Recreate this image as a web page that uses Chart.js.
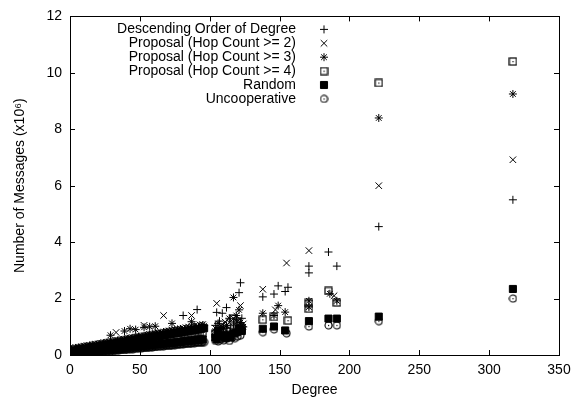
<!DOCTYPE html>
<html>
<head>
<meta charset="utf-8">
<script src="https://cdn.jsdelivr.net/npm/chart.js@4.4.1/dist/chart.umd.min.js"></script>
<style>
  html, body { margin: 0; padding: 0; background: #fff; }
</style>
</head>
<body>
<canvas id="myChart" width="580" height="401"></canvas>
<script>
// Datos (millones de mensajes)

const etiquetas = [
  "Descending Order of Degree",
  "Proposal (Hop Count >= 2)",
  "Proposal (Hop Count >= 3)",
  "Proposal (Hop Count >= 4)",
  "Random",
  "Uncooperative",
];

// grados de la zona densa
const gradosImpares = [1, 3, 5, 7, 9, 11, 13, 15, 17, 19, 21, 23, 25, 27, 29, 31, 33, 35, 37, 39, 41, 43, 45, 47,
  49, 51, 53, 55, 57, 59, 61, 63, 65, 67, 69, 71, 73, 75, 77, 79, 81, 83, 85, 87, 89, 91, 93, 95];
const gradosPares = [2, 4, 6, 8, 10, 12, 14, 16, 18, 20, 22, 24, 26, 28, 30, 32, 34, 36, 38, 40, 42, 44, 46, 48,
  50, 52, 54, 56, 58, 60, 62, 64, 66, 68, 70, 72, 74, 76, 78, 80, 82, 84, 86, 88, 90, 92, 94, 96];

const descDenso = [0.21, 0.22, 0.25, 0.26, 0.28, 0.30, 0.31, 0.34, 0.35, 0.37, 0.39, 0.40, 0.43, 0.44, 0.46, 0.48,
  0.49, 0.52, 0.53, 0.55, 0.57, 0.58, 0.61, 0.62, 0.64, 0.66, 0.67, 0.70, 0.71, 0.73, 0.75, 0.76, 0.79, 0.80,
  0.82, 0.84, 0.85, 0.88, 0.89, 0.91, 1.40, 0.94, 0.97, 0.98, 1.00, 1.61, 1.03, 1.06];
const hop2Denso = [0.19, 0.21, 0.23, 0.25, 0.27, 0.28, 0.31, 0.32, 0.34, 0.36, 0.38, 0.40, 0.42, 0.44, 0.45, 0.48,
  0.80, 0.51, 0.53, 0.55, 0.57, 0.59, 0.61, 0.63, 0.65, 0.66, 1.05, 0.70, 0.72, 0.74, 0.76, 0.78, 0.80, 1.40,
  0.84, 0.85, 0.88, 0.89, 0.91, 0.93, 0.95, 0.97, 0.99, 1.40, 1.03, 1.04, 1.07, 1.08];
const hop3Denso = [0.15, 0.17, 0.18, 0.20, 0.22, 0.23, 0.25, 0.27, 0.28, 0.30, 0.32, 0.34, 0.35, 0.37, 0.70, 0.40,
  0.42, 0.44, 0.45, 0.85, 0.49, 0.93, 0.52, 0.90, 0.56, 0.57, 0.98, 0.61, 1.00, 0.64, 1.02, 0.68, 0.69, 0.71,
  0.73, 0.74, 1.12, 0.78, 0.79, 0.81, 0.83, 0.85, 0.86, 1.18, 0.90, 0.91, 0.93, 0.95];
const hop3Pares = [0.24, 0.25, 0.27, 0.29, 0.31, 0.32, 0.34, 0.36, 0.37, 0.39, 0.41, 0.42, 0.44, 0.46, 0.48, 0.49,
  0.51, 0.53, 0.54, 0.56, 0.58, 0.59, 0.61, 0.63, 0.65, 0.66, 0.68, 0.70, 0.71, 0.73, 0.75, 0.76, 0.78, 0.80,
  0.82, 0.83, 0.85, 0.87, 0.88, 0.90, 0.92, 0.93, 0.95, 0.97, 0.99, 1.00, 1.02, 1.04];
const hop4Denso = [0.11, 0.12, 0.14, 0.15, 0.17, 0.18, 0.20, 0.21, 0.23, 0.24, 0.26, 0.28, 0.29, 0.30, 0.32, 0.34,
  0.35, 0.36, 0.38, 0.40, 0.41, 0.42, 0.44, 0.46, 0.47, 0.48, 0.50, 0.52, 0.53, 0.54, 0.56, 0.58, 0.59, 0.60,
  0.62, 0.64, 0.65, 0.66, 0.68, 0.70, 0.71, 0.72, 0.74, 0.76, 0.77, 0.78, 0.80, 0.81];
const randomDenso = [0.04, 0.05, 0.06, 0.07, 0.08, 0.09, 0.10, 0.11, 0.12, 0.13, 0.15, 0.16, 0.17, 0.18, 0.19, 0.20,
  0.21, 0.22, 0.23, 0.24, 0.26, 0.27, 0.28, 0.29, 0.30, 0.31, 0.32, 0.33, 0.34, 0.35, 0.37, 0.38, 0.39, 0.40,
  0.41, 0.42, 0.43, 0.44, 0.45, 0.46, 0.48, 0.49, 0.50, 0.51, 0.52, 0.53, 0.54, 0.55];
const randomPares = [0.15, 0.16, 0.18, 0.20, 0.22, 0.23, 0.25, 0.27, 0.28, 0.30, 0.32, 0.33, 0.35, 0.37, 0.39, 0.40,
  0.42, 0.44, 0.45, 0.47, 0.49, 0.50, 0.52, 0.54, 0.56, 0.57, 0.59, 0.61, 0.62, 0.64, 0.66, 0.67, 0.69, 0.71,
  0.73, 0.74, 0.76, 0.78, 0.79, 0.81, 0.83, 0.84, 0.86, 0.88, 0.90, 0.91, 0.93, 0.95];
const uncoopDenso = [0.01, 0.02, 0.02, 0.03, 0.05, 0.05, 0.06, 0.07, 0.08, 0.09, 0.09, 0.11, 0.12, 0.12, 0.13, 0.15,
  0.15, 0.16, 0.18, 0.18, 0.19, 0.20, 0.21, 0.22, 0.23, 0.23, 0.25, 0.26, 0.26, 0.27, 0.29, 0.29, 0.30, 0.31,
  0.33, 0.33, 0.34, 0.35, 0.37, 0.37, 0.38, 0.40, 0.40, 0.41, 0.42, 0.44, 0.44, 0.46];
const uncoopPares = [0.04, 0.05, 0.06, 0.07, 0.08, 0.08, 0.09, 0.10, 0.11, 0.12, 0.13, 0.14, 0.15, 0.16, 0.17, 0.17,
  0.18, 0.19, 0.20, 0.21, 0.22, 0.23, 0.24, 0.25, 0.26, 0.26, 0.27, 0.28, 0.29, 0.30, 0.31, 0.32, 0.33, 0.34,
  0.35, 0.35, 0.36, 0.37, 0.38, 0.39, 0.40, 0.41, 0.42, 0.43, 0.44, 0.44, 0.45, 0.46];

// puntos sueltos (grado > 100)
const descX = [104, 105, 107, 109, 110, 112, 115, 117, 119, 121, 122, 123, 138, 146, 149, 154, 156, 171, 171, 185, 191, 221, 317];
const descY = [1.05, 1.51, 1.20, 1.48, 1.00, 1.68, 0.95, 1.10, 1.25, 2.21, 2.56, 1.30, 2.06, 2.16, 2.45, 2.25, 2.40, 2.91, 3.15, 3.65, 3.15, 4.55, 5.50];
const hop2X = [104, 105, 108, 111, 114, 117, 120, 122, 124, 138, 147, 155, 171, 189, 221, 317];
const hop2Y = [0.95, 1.83, 1.05, 1.17, 1.15, 1.30, 1.20, 1.75, 1.10, 2.33, 1.60, 3.26, 3.70, 2.10, 6.00, 6.92];
const hop3X = [104, 106, 108, 110, 112, 114, 117, 119, 121, 122, 124, 138, 146, 149, 154, 171, 171, 186, 191, 221, 317];
const hop3Y = [0.85, 1.12, 0.95, 0.95, 1.05, 1.30, 2.04, 1.40, 1.60, 1.15, 1.00, 1.48, 1.40, 1.75, 1.52, 1.92, 1.70, 2.17, 1.92, 8.40, 9.25];
const hop4X = [104, 107, 109, 112, 115, 117, 120, 122, 123, 138, 146, 156, 171, 171, 185, 191, 221, 317];
const hop4Y = [0.75, 0.90, 0.80, 0.85, 0.92, 1.30, 1.20, 1.00, 0.95, 1.25, 1.35, 1.22, 1.64, 1.85, 2.27, 1.86, 9.64, 10.40];
const randomX = [104, 105, 106, 108, 110, 111, 113, 115, 117, 119, 121, 123, 138, 146, 154, 171, 185, 191, 221, 317];
const randomY = [0.62, 0.55, 0.85, 0.70, 0.66, 0.60, 0.72, 0.62, 0.77, 0.80, 0.94, 0.85, 0.93, 1.01, 0.87, 1.20, 1.29, 1.29, 1.36, 2.34];
const uncoopX = [104, 106, 108, 110, 112, 114, 116, 118, 120, 122, 138, 146, 155, 171, 185, 191, 221, 317];
const uncoopY = [0.50, 0.48, 0.55, 0.52, 0.58, 0.50, 0.62, 0.60, 0.66, 0.70, 0.81, 0.91, 0.77, 1.01, 1.05, 1.05, 1.20, 2.00];

const ticksX = [0, 50, 100, 150, 200, 250, 300, 350];
const ticksY = [0, 2, 4, 6, 8, 10, 12];

// funciones

// une pares de listas [grados, valores] en puntos {x, y}
function crearPuntos(...partes) {
  const puntos = [];
  partes.forEach(([xs, ys]) => {
    xs.forEach((x, i) => puntos.push({ x: x, y: ys[i] }));
  });
  return puntos;
}

// simbolos de gnuplot que no trae Chart.js
function simboloCajaPunto() {
  const c = document.createElement("canvas");
  c.width = 9;
  c.height = 9;
  const g = c.getContext("2d");
  g.strokeStyle = "#000";
  g.lineWidth = 1.2;
  g.strokeRect(1, 1, 7, 7);
  g.fillStyle = "#000";
  g.fillRect(4, 4, 1.2, 1.2);
  return c;
}

function simboloCirculoPunto() {
  const c = document.createElement("canvas");
  c.width = 9;
  c.height = 9;
  const g = c.getContext("2d");
  g.strokeStyle = "#000";
  g.lineWidth = 1.1;
  g.beginPath();
  g.arc(4.5, 4.5, 3.5, 0, Math.PI * 2);
  g.stroke();
  g.fillStyle = "#000";
  g.fillRect(4, 4, 1.2, 1.2);
  return c;
}

const estilos = [
  { pointStyle: "cross", radius: 4, fill: "transparent" },
  { pointStyle: "crossRot", radius: 4.6, fill: "transparent" },
  { pointStyle: "star", radius: 4, fill: "transparent" },
  { pointStyle: simboloCajaPunto(), radius: 4, fill: "transparent" },
  { pointStyle: "rect", radius: 5, fill: "#000" },
  { pointStyle: simboloCirculoPunto(), radius: 4, fill: "transparent" },
];

const series = [
  crearPuntos([gradosImpares, descDenso], [descX, descY]),
  crearPuntos([gradosImpares, hop2Denso], [hop2X, hop2Y]),
  crearPuntos([gradosImpares, hop3Denso], [gradosPares, hop3Pares], [hop3X, hop3Y]),
  crearPuntos([gradosImpares, hop4Denso], [hop4X, hop4Y]),
  crearPuntos([gradosImpares, randomDenso], [gradosPares, randomPares], [randomX, randomY]),
  crearPuntos([gradosImpares, uncoopDenso], [gradosPares, uncoopPares], [uncoopX, uncoopY]),
];

const datasets = series.map((data, i) => ({
  label: etiquetas[i],
  data: data,
  order: series.length - i,
  pointStyle: estilos[i].pointStyle,
  pointRadius: estilos[i].radius,
  pointHoverRadius: estilos[i].radius,
  pointBorderColor: "#000",
  pointBackgroundColor: estilos[i].fill,
  pointBorderWidth: 1,
  showLine: false,
}));

const familia = "'Liberation Sans', Arial, sans-serif";

// marco, marcas hacia dentro y leyenda estilo gnuplot
const marcoGnuplot = {
  id: "marcoGnuplot",
  afterDatasetsDraw(chart) {
    const { ctx, chartArea: a, scales } = chart;
    const largo = 5;
    ctx.save();
    ctx.strokeStyle = "#000";
    ctx.lineWidth = 1;
    ctx.beginPath();
    ticksX.forEach((v) => {
      const x = Math.round(scales.x.getPixelForValue(v)) + 0.5;
      ctx.moveTo(x, a.bottom);
      ctx.lineTo(x, a.bottom - largo);
      ctx.moveTo(x, a.top);
      ctx.lineTo(x, a.top + largo);
    });
    ticksY.forEach((v) => {
      const y = Math.round(scales.y.getPixelForValue(v)) + 0.5;
      ctx.moveTo(a.left, y);
      ctx.lineTo(a.left + largo, y);
      ctx.moveTo(a.right, y);
      ctx.lineTo(a.right - largo, y);
    });
    ctx.stroke();
    ctx.strokeRect(Math.round(a.left) + 0.5, Math.round(a.top) + 0.5,
      Math.round(a.right - a.left), Math.round(a.bottom - a.top));

    // leyenda
    ctx.font = "14px " + familia;
    ctx.fillStyle = "#000";
    ctx.textAlign = "right";
    ctx.textBaseline = "middle";
    const xTexto = a.left + 226;
    const xSimbolo = a.left + 254;
    etiquetas.forEach((txt, i) => {
      const y = a.top + 13 + i * 13.9;
      ctx.fillText(txt, xTexto, y);
      ctx.fillStyle = estilos[i].fill;
      Chart.helpers.drawPoint(ctx, {
        pointStyle: estilos[i].pointStyle,
        radius: estilos[i].radius,
        borderWidth: 1,
        rotation: 0,
      }, xSimbolo, y);
      ctx.fillStyle = "#000";
    });
    ctx.restore();
  },
};

const fuente = { family: familia, size: 14 };

new Chart(document.getElementById("myChart"), {
  type: "scatter",
  data: { datasets },
  options: {
    responsive: false,
    devicePixelRatio: 1,
    animation: false,
    layout: { padding: { top: 12, right: 21, left: 0, bottom: 0 } },
    plugins: { legend: { display: false }, tooltip: { enabled: false } },
    scales: {
      x: {
        type: "linear",
        min: 0,
        max: 350,
        afterFit: (s) => { s.height = 46; },
        afterBuildTicks: (s) => { s.ticks = ticksX.map((v) => ({ value: v })); },
        grid: { display: false, drawTicks: false, tickLength: 0 },
        border: { display: false },
        ticks: { padding: 7, color: "#000", font: fuente, maxRotation: 0 },
        title: { display: true, text: "Degree", color: "#000", font: fuente, padding: { top: 0, bottom: 2 } },
      },
      y: {
        type: "linear",
        min: 0,
        max: 12,
        afterFit: (s) => { s.width = 70; },
        afterBuildTicks: (s) => { s.ticks = ticksY.map((v) => ({ value: v })); },
        grid: { display: false, drawTicks: false, tickLength: 0 },
        border: { display: false },
        ticks: { padding: 8, color: "#000", font: fuente },
        title: { display: true, text: "Number of Messages (x10⁶)", color: "#000", font: fuente, padding: { top: 12, bottom: 0 } },
      },
    },
  },
  plugins: [marcoGnuplot],
});
</script>
</body>
</html>
